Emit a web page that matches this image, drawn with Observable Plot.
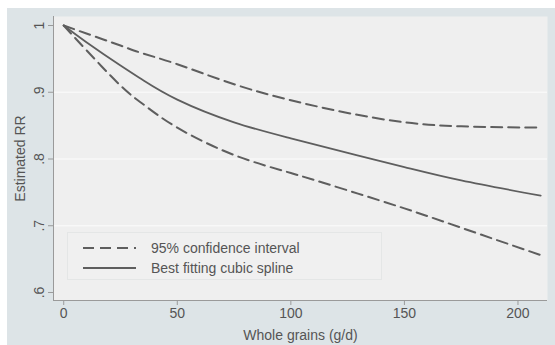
<!DOCTYPE html>
<html>
<head>
<meta charset="utf-8">
<script src="https://cdn.jsdelivr.net/npm/d3@7"></script>
<script src="https://cdn.jsdelivr.net/npm/@observablehq/plot@0.6"></script>
<style>
  html, body { margin: 0; padding: 0; background: #ffffff; }
  #wrap { position: absolute; left: 7px; top: 8px; width: 548px; height: 337px; background: #dde4e7; }
  #legend { position: absolute; left: 60px; top: 224px; width: 315px; height: 48px;
            border: 1px solid #e4e6e6; background: #f0f0f0; box-sizing: border-box;
            font-family: "Liberation Sans", Arial, sans-serif; font-size: 14px; color: #555; }
</style>
</head>
<body>
<div id="wrap"></div>
<script>
const grams  = [0, 10, 25, 35, 50, 75, 100, 125, 150, 175, 210];
const upperCI = [1, 0.988, 0.970, 0.958, 0.942, 0.912, 0.888, 0.869, 0.855, 0.849, 0.847];
const spline  = [1, 0.975, 0.940, 0.918, 0.889, 0.855, 0.831, 0.809, 0.788, 0.768, 0.745];
const lowerCI = [1, 0.963, 0.910, 0.882, 0.847, 0.806, 0.779, 0.753, 0.726, 0.697, 0.656];
const xTicks = [0, 50, 100, 150, 200];
const yTicks = [0.6, 0.7, 0.8, 0.9, 1];
const xDomain = [-4.5, 213];
const yDomain = [0.588, 1.0135];
const legendLabels = ["95% confidence interval", "Best fitting cubic spline"];

const rows = (ys) => grams.map((g, i) => ({x: g, y: ys[i]}));
const fmtY = d => d === 1 ? "1" : String(d).replace(/^0\./, ".");
const lineColor = "#5e5e5e";
const dash = "11,6";

const chart = Plot.plot({
  width: 548,
  height: 337,
  marginLeft: 46,
  marginRight: 8,
  marginTop: 8,
  marginBottom: 45,
  style: {background: "transparent", fontFamily: "'Liberation Sans', Arial, sans-serif", fontSize: "14px", color: "#555"},
  x: {domain: xDomain},
  y: {domain: yDomain},
  marks: [
    Plot.frame({fill: "#efefef", stroke: "none"}),
    Plot.ruleY(yTicks.slice(1, 4), {stroke: "#f8f8f8", strokeWidth: 1.5}),
    Plot.ruleX([xDomain[0]], {stroke: "#9a9a9a", strokeWidth: 1}),
    Plot.ruleY([yDomain[0]], {stroke: "#9a9a9a", strokeWidth: 1}),
    Plot.axisX({ticks: xTicks, tickSize: 5, tickPadding: 3, stroke: "#9a9a9a", fill: "#555", fontSize: 14,
                label: "Whole grains (g/d)", labelAnchor: "center", labelOffset: 39, labelArrow: "none"}),
    Plot.axisY({ticks: yTicks, tickSize: 5, tickFormat: fmtY, stroke: "#9a9a9a", fill: "#555", fontSize: 14,
                tickRotate: -90, tickPadding: 5,
                label: "Estimated RR", labelAnchor: "center", labelOffset: 38, labelArrow: "none"}),
    Plot.line(rows(upperCI), {x: "x", y: "y", curve: "natural", stroke: lineColor, strokeWidth: 2, strokeDasharray: dash}),
    Plot.line(rows(lowerCI), {x: "x", y: "y", curve: "natural", stroke: lineColor, strokeWidth: 2, strokeDasharray: dash}),
    Plot.line(rows(spline), {x: "x", y: "y", curve: "natural", stroke: lineColor, strokeWidth: 1.8})
  ]
});
const wrap = document.getElementById("wrap");
wrap.appendChild(chart);

const legend = document.createElement("div");
legend.id = "legend";
legend.innerHTML = `
<svg width="315" height="48" style="position:absolute;left:0;top:0">
  <line x1="15" x2="68" y1="15" y2="15" stroke="${lineColor}" stroke-width="2" stroke-dasharray="${dash}"/>
  <line x1="15" x2="68" y1="35" y2="35" stroke="${lineColor}" stroke-width="2"/>
  <text x="83" y="20" fill="#555" font-size="14">${legendLabels[0]}</text>
  <text x="83" y="40" fill="#555" font-size="14">${legendLabels[1]}</text>
</svg>`;
wrap.appendChild(legend);
</script>
</body>
</html>
